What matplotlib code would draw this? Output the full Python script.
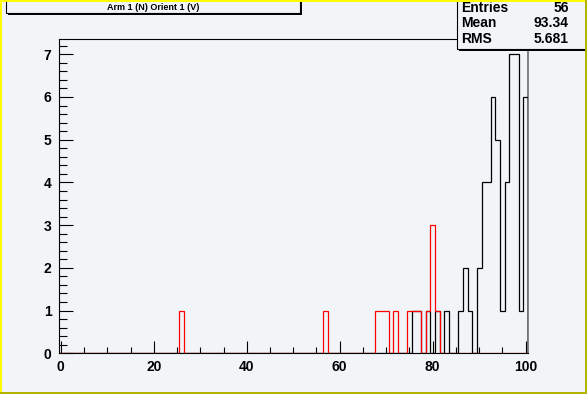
import matplotlib
matplotlib.use("Agg")
import matplotlib.pyplot as plt
from matplotlib.patches import Rectangle
from matplotlib.ticker import MultipleLocator
import numpy as np

# histogram: 101 unit bins centred on 0..100
edges = np.arange(-0.5, 101.0, 1.0)

black_bins = [76, 77, 79, 81, 83, 86, 87, 88, 90, 91, 92, 93, 94, 95, 96, 97, 98, 99, 100]
black_counts = [1, 1, 1, 1, 1, 1, 2, 1, 2, 4, 4, 6, 5, 1, 4, 7, 7, 1, 6]

red_bins = [26, 57, 68, 69, 70, 72, 75, 76, 77, 79, 80, 81]
red_counts = [1, 1, 1, 1, 1, 1, 1, 1, 1, 1, 3, 1]

title = "Arm 1 (N) Orient 1 (V)"
stat_names = ["Entries", "Mean", "RMS"]
stat_values = ["56", "93.34", "5.681"]

x_ticks = [0, 20, 40, 60, 80, 100]
y_ticks = [0, 1, 2, 3, 4, 5, 6, 7]

BG = "#f2f5f7"
W, H = 587, 394

plt.rcParams["font.family"] = ["Liberation Sans", "DejaVu Sans"]
plt.rcParams["font.weight"] = "bold"

fig = plt.figure(figsize=(W / 100, H / 100), dpi=100)
fig.patch.set_facecolor(BG)


def fx(px):
    return px / W


def fy(py):
    return 1 - py / H


left, right, top, bottom = 58.5, 528.0, 39.3, 353.3
ax = fig.add_axes([fx(left), fy(bottom), fx(right - left), (bottom - top) / H])
ax.set_facecolor(BG)

black = np.zeros(len(edges) - 1)
for b, c in zip(black_bins, black_counts):
    black[b] = c
red = np.zeros(len(edges) - 1)
for b, c in zip(red_bins, red_counts):
    red[b] = c

ax.stairs(black, edges, color="black", lw=0.9, zorder=3)
ax.stairs(red, edges, color="#ff0000", lw=0.9, zorder=4)

ax.set_xlim(-0.5, 100.5)
ax.set_ylim(0, 7.35)

ax.set_xticks(x_ticks)
ax.xaxis.set_minor_locator(MultipleLocator(5))
ax.set_yticks(y_ticks)
ax.yaxis.set_minor_locator(MultipleLocator(0.2))

ax.tick_params(axis="both", which="both", direction="in", colors="black", width=0.8,
               labelsize=10, top=False, right=False)
ax.tick_params(axis="x", which="major", length=9, pad=5)
ax.tick_params(axis="x", which="minor", length=4.5)
ax.tick_params(axis="y", which="major", length=10, pad=5)
ax.tick_params(axis="y", which="minor", length=5.5)
for lab in ax.get_xticklabels() + ax.get_yticklabels():
    lab.set_fontweight("bold")

for s in ("left", "top", "bottom"):
    ax.spines[s].set_color("black")
    ax.spines[s].set_linewidth(0.8)
ax.spines["right"].set_color("#808080")
ax.spines["right"].set_linewidth(1.4)

# title box (cut by the top edge)
fig.patches.append(Rectangle((fx(8), fy(15.3)), fx(294), 20 / H, transform=fig.transFigure,
                             facecolor="black", edgecolor="none", zorder=5))
fig.patches.append(Rectangle((fx(6), fy(13.3)), fx(294), 20 / H, transform=fig.transFigure,
                             facecolor=BG, edgecolor="black", lw=0.8, zorder=6))
fig.text(fx(153), fy(7), title, ha="center", va="center", fontsize=6.5,
         fontweight="bold", zorder=7)

# stats box
fig.patches.append(Rectangle((fx(459.3), fy(51.3)), fx(140), 60 / H, transform=fig.transFigure,
                             facecolor="black", edgecolor="none", zorder=5))
fig.patches.append(Rectangle((fx(457.3), fy(49.3)), fx(140), 60 / H, transform=fig.transFigure,
                             facecolor=BG, edgecolor="black", lw=0.8, zorder=6))
for i, (n, v) in enumerate(zip(stat_names, stat_values)):
    yc = 7.5 + 15.7 * i
    fig.text(fx(461), fy(yc), n, ha="left", va="center", fontsize=10, fontweight="bold", zorder=7)
    fig.text(fx(569), fy(yc), v, ha="right", va="center", fontsize=10, fontweight="bold", zorder=7)

# canvas bevel border
fig.patches.append(Rectangle((0, 0), fx(2), 1, transform=fig.transFigure,
                             facecolor="#ffff00", edgecolor="none", zorder=10))
fig.patches.append(Rectangle((0, fy(2)), 1, 2 / H, transform=fig.transFigure,
                             facecolor="#ffff00", edgecolor="none", zorder=10))
fig.patches.append(Rectangle((fx(W - 2), 0), fx(2), 1, transform=fig.transFigure,
                             facecolor="#b3b300", edgecolor="none", zorder=11))
fig.patches.append(Rectangle((0, 0), 1, 2.5 / H, transform=fig.transFigure,
                             facecolor="#b3b300", edgecolor="none", zorder=11))

fig.savefig("out.png", dpi=100, facecolor=BG)
